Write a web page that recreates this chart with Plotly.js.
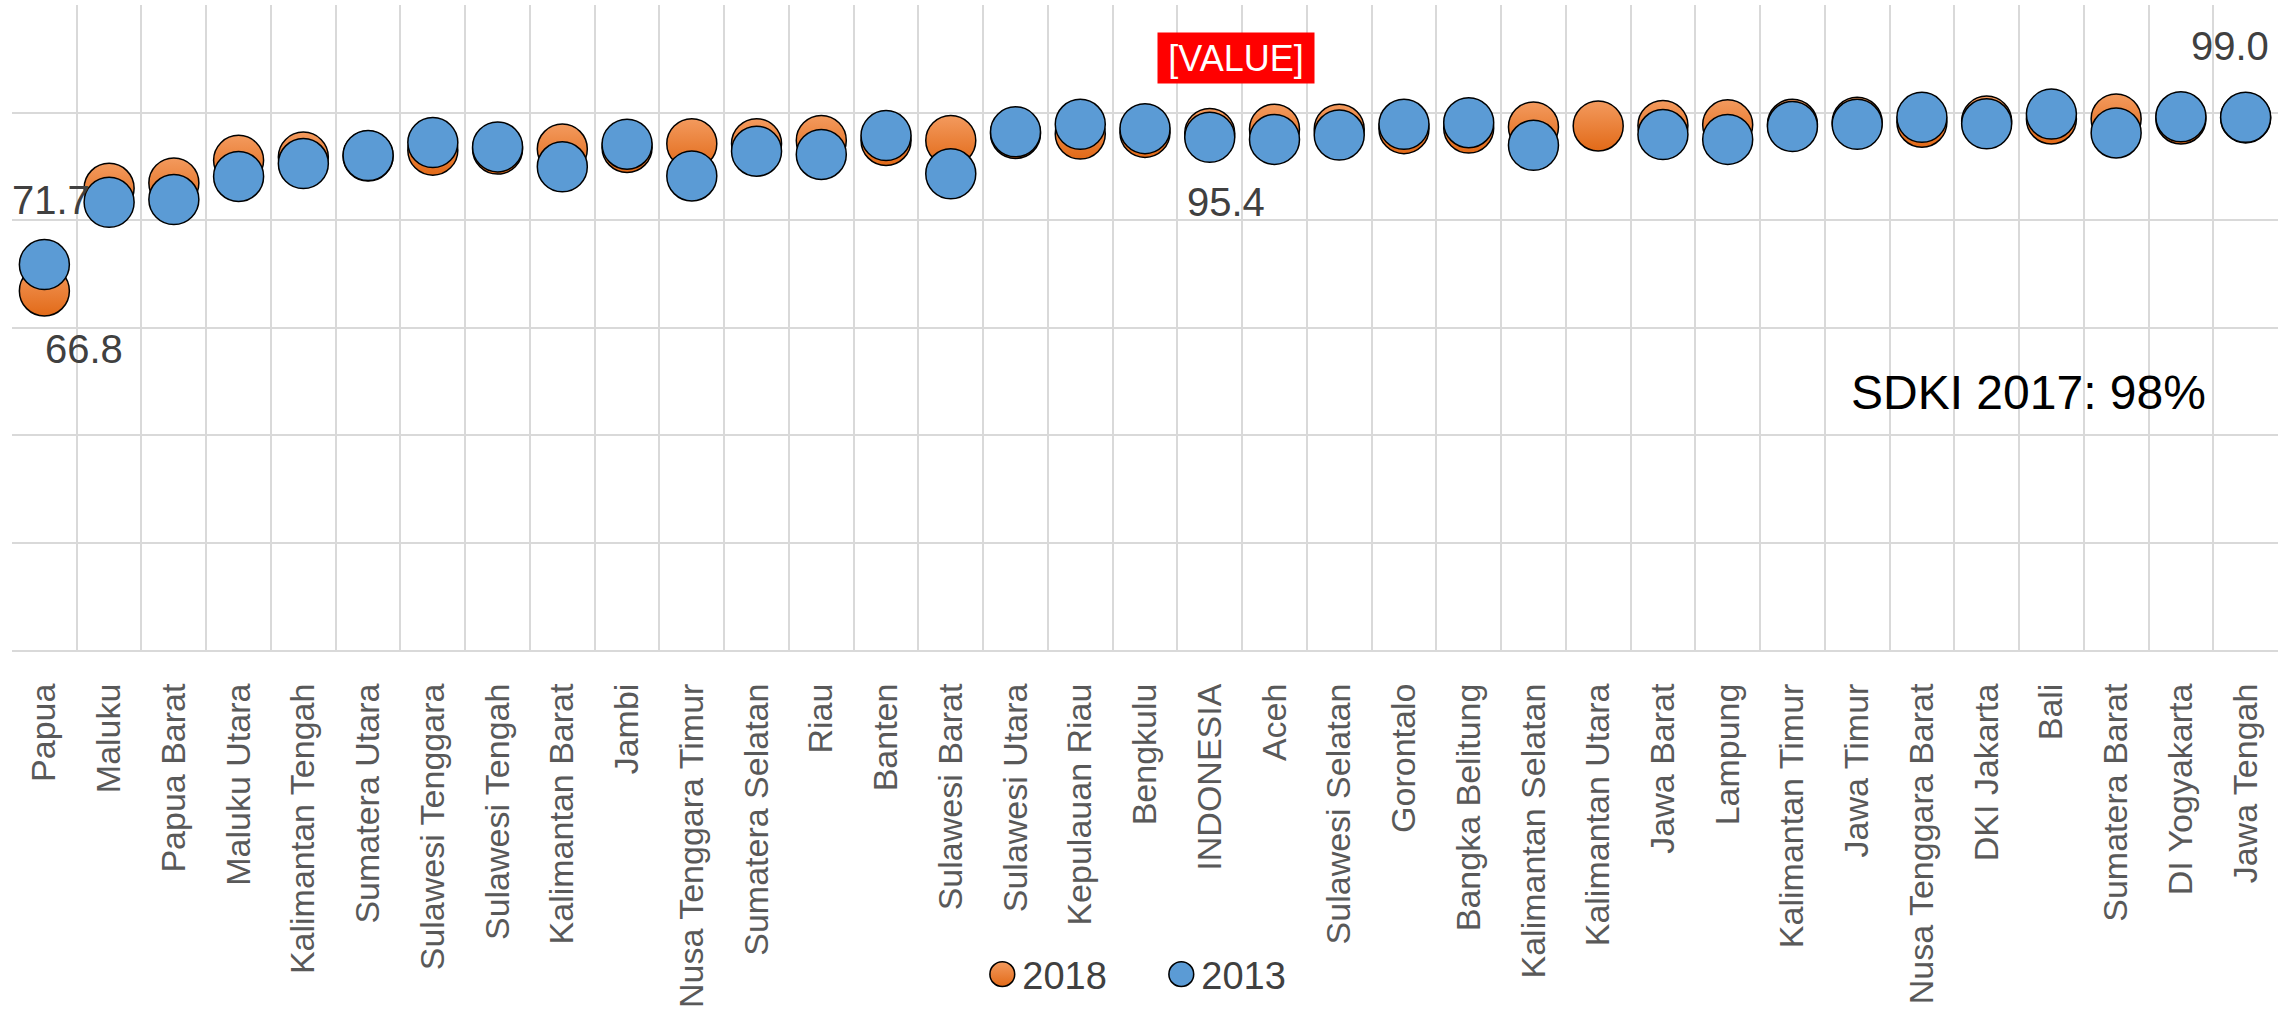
<!DOCTYPE html>
<html>
<head>
<meta charset="utf-8">
<script src="https://cdn.plot.ly/plotly-3.0.1.min.js"></script>
<style>
  html, body { margin: 0; padding: 0; background: #ffffff; }
  #chart { width: 2288px; height: 1016px; }
</style>
</head>
<body>
<div id="chart"></div>
<script>
// ---- data ----
const provinces = [
  "Papua", "Maluku", "Papua Barat", "Maluku Utara", "Kalimantan Tengah",
  "Sumatera Utara", "Sulawesi Tenggara", "Sulawesi Tengah", "Kalimantan Barat", "Jambi",
  "Nusa Tenggara Timur", "Sumatera Selatan", "Riau", "Banten", "Sulawesi Barat",
  "Sulawesi Utara", "Kepulauan Riau", "Bengkulu", "INDONESIA", "Aceh",
  "Sulawesi Selatan", "Gorontalo", "Bangka Belitung", "Kalimantan Selatan", "Kalimantan Utara",
  "Jawa Barat", "Lampung", "Kalimantan Timur", "Jawa Timur", "Nusa Tenggara Barat",
  "DKI Jakarta", "Bali", "Sumatera Barat", "DI Yogyakarta", "Jawa Tengah"
];
const values2018 = [
  66.8, 85.9, 86.9, 91.1, 91.7,
  91.9, 93.0, 93.2, 93.2, 93.5,
  94.2, 94.2, 94.8, 94.8, 94.8,
  96.1, 96.0, 96.3, 96.1, 96.9,
  96.9, 97.0, 97.1, 97.3, 97.5,
  97.6, 97.7, 97.8, 98.2, 98.2,
  98.4, 98.8, 98.8, 98.8, 99.0
];
const values2013 = [
  71.7, 83.3, 83.8, 88.1, 90.5,
  92.0, 94.4, 93.6, 89.9, 94.1,
  88.2, 92.8, 92.2, 95.7, 88.6,
  96.4, 97.8, 97.0, 95.4, 95.0,
  95.8, 97.8, 98.1, 93.9, null,
  95.9, 95.0, 97.4, 97.8, 99.1,
  97.9, 99.7, 96.2, 99.2, 99.1
];
const seriesNames = ["2018", "2013"];
const noteText = "SDKI 2017: 98%";
const brokenLabel = "[VALUE]";

// ---- helpers ----
const idx = name => provinces.indexOf(name);
const fmt = v => v.toFixed(1);

const labelFont = { family: "Liberation Sans, Arial, sans-serif", size: 40, color: "#404040" };

const trace2018 = {
  type: "scatter", mode: "markers", name: seriesNames[0],
  x: provinces, y: values2018,
  marker: {
    size: 50, color: "#F39A5E",
    gradient: { type: "vertical", color: "#E26A18" },
    line: { color: "#000000", width: 1.5 }
  },
  hoverinfo: "x+y"
};
const trace2013 = {
  type: "scatter", mode: "markers", name: seriesNames[1],
  x: provinces, y: values2013,
  marker: { size: 50, color: "#5B9BD5", line: { color: "#000000", width: 1.5 } },
  hoverinfo: "x+y"
};

const iPapua = idx("Papua"), iIndo = idx("INDONESIA"), iJateng = idx("Jawa Tengah");

const annotations = [
  { x: provinces[iPapua], y: values2013[iPapua], text: fmt(values2013[iPapua]),
    xshift: 7, yshift: 65, showarrow: false, font: labelFont },
  { x: provinces[iPapua], y: values2018[iPapua], text: fmt(values2018[iPapua]),
    xshift: 40, yshift: -58, showarrow: false, font: labelFont },
  { x: provinces[iIndo], y: values2018[iIndo], text: brokenLabel,
    xshift: 26, yshift: 75, showarrow: false, bgcolor: "#FF0000", borderpad: 4,
    width: 148, height: 42, align: "center",
    font: { family: "Liberation Sans, Arial, sans-serif", size: 36, color: "#FFFFFF" } },
  { x: provinces[iIndo], y: values2013[iIndo], text: fmt(values2013[iIndo]),
    xshift: 16, yshift: -65, showarrow: false, font: labelFont },
  { x: provinces[iJateng], y: values2018[iJateng], text: fmt(values2018[iJateng]),
    xshift: -16, yshift: 72, showarrow: false, font: labelFont },
  { xref: "paper", yref: "paper", x: 0.8897, y: 0.40, xanchor: "center", yanchor: "middle",
    text: noteText, showarrow: false,
    font: { family: "Liberation Sans, Arial, sans-serif", size: 48, color: "#000000" } }
];

const layout = {
  width: 2288, height: 1016,
  paper_bgcolor: "#ffffff", plot_bgcolor: "#ffffff",
  margin: { l: 12, r: 10, t: 5, b: 366, pad: 0 },
  showlegend: true,
  legend: {
    orientation: "h", x: 0.4282, xanchor: "left", y: -0.503, yanchor: "middle",
    font: { family: "Liberation Sans, Arial, sans-serif", size: 38, color: "#404040" },
    itemwidth: 30, entrywidth: 134, entrywidthmode: "pixels", bgcolor: "rgba(0,0,0,0)"
  },
  xaxis: {
    type: "category", range: [-0.5, provinces.length - 0.5],
    tickson: "boundaries", showgrid: true, gridcolor: "#D9D9D9", gridwidth: 2,
    ticks: "", tickangle: -90, ticklabelstandoff: 18,
    tickfont: { family: "Liberation Sans, Arial, sans-serif", size: 34, color: "#595959" },
    showline: true, linecolor: "#D9D9D9", linewidth: 2, zeroline: false, fixedrange: true
  },
  yaxis: {
    range: [0, 120], dtick: 20, tick0: 0, showticklabels: false, ticks: "",
    showgrid: true, gridcolor: "#D9D9D9", gridwidth: 2, zeroline: false,
    showline: false, fixedrange: true
  },
  annotations: annotations
};

Plotly.newPlot("chart", [trace2018, trace2013], layout, { displayModeBar: false, staticPlot: true })
  .then(function (gd) {
    // enlarge the legend swatches to match the reference's bigger legend circles
    gd.querySelectorAll(".legend .legendpoints path").forEach(function (p) {
      var t = p.getAttribute("transform") || "";
      p.setAttribute("transform", t + " scale(1.55)");
      p.style.strokeWidth = "1px";
    });
  });
</script>
</body>
</html>
